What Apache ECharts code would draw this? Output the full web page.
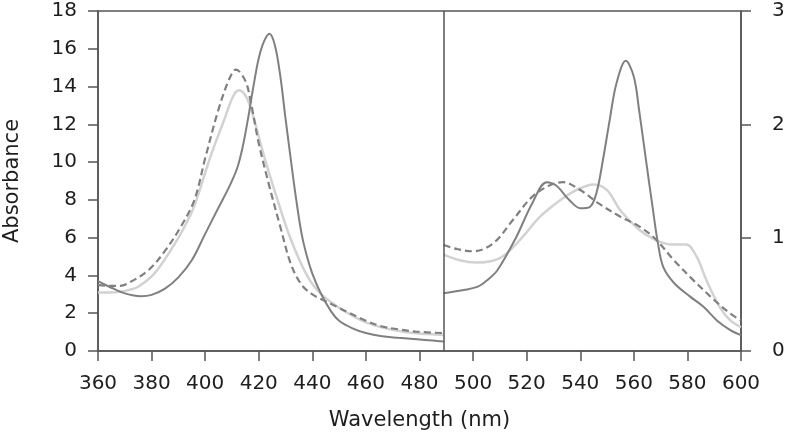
<!DOCTYPE html>
<html>
<head>
<meta charset="utf-8">
<script src="https://cdn.jsdelivr.net/npm/echarts@6/dist/echarts.min.js"></script>
<style>html,body{margin:0;padding:0;background:#fff}#c{width:787px;height:437px}</style>
</head>
<body>
<div id="c"></div>
<script>
// ---- Data ----
var xTicks = [360, 380, 400, 420, 440, 460, 480, 500, 520, 540, 560, 580, 600];
var leftTicks = [0, 2, 4, 6, 8, 10, 12, 14, 16, 18];
var rightTicks = [0, 1, 2, 3];
var splitWl = 489;

// Left panel (Soret region), left axis
var darkLeftWl = [360, 365, 370, 376, 380, 385, 390, 395, 400, 405, 409, 412, 414, 416, 418, 420, 422, 424, 426, 428, 430, 432, 434, 436, 438, 440, 443, 447, 450, 455, 460, 466, 472, 479, 485, 489];
var darkLeft   = [3.7, 3.35, 3.05, 2.9, 2.97, 3.3, 3.9, 4.8, 6.2, 7.6, 8.7, 9.7, 10.8, 12.3, 14.0, 15.5, 16.4, 16.8, 16.2, 14.6, 12.3, 10.1, 8.0, 6.2, 5.0, 4.1, 3.1, 2.1, 1.6, 1.2, 0.95, 0.78, 0.7, 0.62, 0.55, 0.5];
var dashLeftWl = [360, 364, 368, 372, 379, 385, 391, 396, 400, 405, 409, 411.5, 415, 417, 420, 424, 428, 432, 436, 440, 444, 449, 454, 460, 466, 472, 479, 489];
var dashLeft   = [3.5, 3.45, 3.45, 3.65, 4.3, 5.3, 6.6, 8.0, 10.2, 12.8, 14.4, 14.9, 14.3, 13.2, 11.0, 8.7, 6.6, 4.6, 3.5, 3.0, 2.7, 2.35, 2.0, 1.6, 1.3, 1.15, 1.02, 0.95];
var lightLeftWl = [360, 364, 368, 372, 375, 381, 387, 392, 396, 402, 407, 410.5, 412.7, 415.5, 418, 422, 427, 432, 438, 443, 451, 461, 474, 489];
var lightLeft   = [3.1, 3.1, 3.13, 3.25, 3.4, 4.1, 5.3, 6.5, 7.7, 10.3, 12.2, 13.5, 13.8, 13.4, 12.4, 10.3, 8.0, 5.9, 4.0, 3.05, 2.2, 1.46, 1.02, 0.85];

// Right panel (Q-band region), right axis
var darkRightWl = [489, 497, 502, 505, 509, 516, 522, 527.5, 531, 536, 540, 543.5, 546, 548.5, 551, 553.5, 557, 560, 562, 564.5, 567, 569, 571, 575, 581, 586, 591, 596, 600];
var darkRight   = [0.51, 0.54, 0.57, 0.62, 0.71, 1.0, 1.3, 1.49, 1.46, 1.33, 1.26, 1.27, 1.39, 1.69, 2.04, 2.36, 2.56, 2.42, 2.12, 1.69, 1.27, 0.95, 0.74, 0.6, 0.48, 0.39, 0.27, 0.185, 0.14];
var dashRightWl = [489, 494, 500, 507.5, 515, 522, 528.5, 533.5, 540, 547, 555, 562, 568, 575, 582, 590, 596, 600];
var dashRight   = [0.935, 0.9, 0.88, 0.95, 1.16, 1.36, 1.46, 1.49, 1.42, 1.3, 1.185, 1.1, 0.99, 0.8, 0.63, 0.45, 0.33, 0.27];
var lightRightWl = [489, 495, 501, 510, 517.5, 525, 532.5, 538.5, 545, 550, 555, 562, 568, 574, 579.5, 583.5, 587, 592, 596, 600];
var lightRight   = [0.85, 0.8, 0.78, 0.82, 0.98, 1.185, 1.33, 1.42, 1.47, 1.42, 1.24, 1.07, 0.98, 0.94, 0.94, 0.83, 0.63, 0.39, 0.27, 0.21];

function pairs(xs, ys) { return xs.map(function (x, i) { return [x, ys[i]]; }); }

var FONT = 'DejaVu Sans';
var TXT = '#1e1e1e';
var AX = '#555555';
var DARK = '#808080';
var LIGHT = '#d2d2d2';

var chart = echarts.init(document.getElementById('c'), null, { renderer: 'canvas' });

function lineSeries(name, data, yIdx, color, width, dashed) {
  return {
    name: name, type: 'line', data: data, yAxisIndex: yIdx,
    smooth: 0.35, showSymbol: false, symbol: 'none', animation: false,
    lineStyle: { color: color, width: width, type: dashed ? [7, 4] : 'solid' },
    z: dashed ? 3 : (color === LIGHT ? 2 : 4)
  };
}

var series = [
  lineSeries('lightLeft', pairs(lightLeftWl, lightLeft), 0, LIGHT, 2.5, false),
  lineSeries('dashLeft', pairs(dashLeftWl, dashLeft), 0, DARK, 2.2, true),
  lineSeries('darkLeft', pairs(darkLeftWl, darkLeft), 0, DARK, 2, false),
  lineSeries('lightRight', pairs(lightRightWl, lightRight), 1, LIGHT, 2.5, false),
  lineSeries('dashRight', pairs(dashRightWl, dashRight), 1, DARK, 2.2, true),
  lineSeries('darkRight', pairs(darkRightWl, darkRight), 1, DARK, 2, false)
];
series[2].markLine = {
  silent: true, symbol: ['none', 'none'], label: { show: false },
  lineStyle: { color: AX, width: 1.5, type: 'solid' },
  data: [{ xAxis: splitWl }], animation: false
};

chart.setOption({
  backgroundColor: '#ffffff',
  animation: false,
  grid: { left: 98, right: 46, top: 11, bottom: 86, containLabel: false, outerBoundsMode: 'none', show: true, borderColor: AX, borderWidth: 1.5, backgroundColor: 'transparent' },
  xAxis: {
    type: 'value', min: xTicks[0], max: xTicks[xTicks.length - 1], interval: 20,
    name: 'Wavelength (nm)', nameLocation: 'middle', nameGap: 59,
    nameTextStyle: { fontFamily: FONT, fontSize: 21, color: TXT },
    axisLine: { lineStyle: { color: AX, width: 1.5 } },
    axisTick: { show: true, inside: false, length: 10, lineStyle: { color: AX, width: 1.5 } },
    axisLabel: { fontFamily: FONT, fontSize: 20, color: TXT, margin: 23 },
    splitLine: { show: false }
  },
  yAxis: [
    {
      type: 'value', position: 'left', min: leftTicks[0], max: leftTicks[leftTicks.length - 1], interval: 2,
      name: 'Absorbance', nameLocation: 'middle', nameGap: 75,
      nameTextStyle: { fontFamily: FONT, fontSize: 21, color: TXT },
      axisLine: { show: true, lineStyle: { color: AX, width: 1.5 } },
      axisTick: { show: true, inside: false, length: 10, lineStyle: { color: AX, width: 1.5 } },
      axisLabel: { fontFamily: FONT, fontSize: 20, color: TXT, margin: 21 },
      splitLine: { show: false }
    },
    {
      type: 'value', position: 'right', min: rightTicks[0], max: rightTicks[rightTicks.length - 1], interval: 1,
      axisLine: { show: true, lineStyle: { color: AX, width: 1.5 } },
      axisTick: { show: true, inside: false, length: 10, lineStyle: { color: AX, width: 1.5 } },
      axisLabel: { fontFamily: FONT, fontSize: 20, color: TXT, margin: 31, align: 'left' },
      splitLine: { show: false }
    }
  ],
  series: series
});
</script>
</body>
</html>
